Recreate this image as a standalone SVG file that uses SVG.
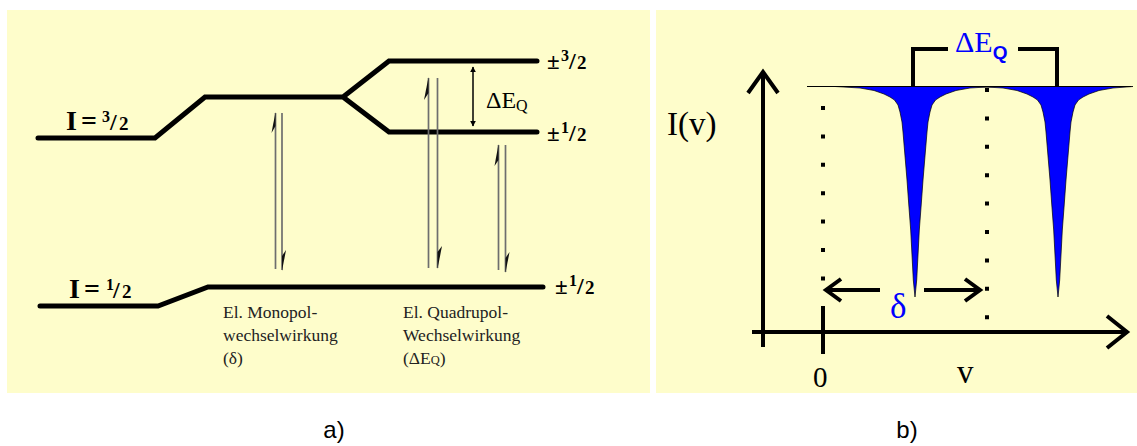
<svg xmlns="http://www.w3.org/2000/svg" width="1137" height="446" viewBox="0 0 1137 446">
<defs>
<style>
.bg{fill:#FEFDCB}
.lvl{fill:none;stroke:#000;stroke-width:5;stroke-linecap:round;stroke-linejoin:miter}
.tr{stroke:#6e6e6e;stroke-width:1.7}
.barb{fill:#111}
.lbl{font-family:"Liberation Serif","Times New Roman",serif;font-weight:bold;fill:#000}
.note{font-family:"Liberation Serif","Times New Roman",serif;font-size:17.5px;fill:#222}
.ax{fill:none;stroke:#000;stroke-width:4}
.dots{stroke:#000;stroke-width:4;stroke-dasharray:4 24.4}
.blue{fill:#0000FF}
.peak{fill:#0000FF;stroke:#000;stroke-width:0.7}
.cap{font-family:"Liberation Sans",Arial,sans-serif;font-size:24px;fill:#000}
</style>
<marker id="ah" viewBox="0 0 10 10" refX="9" refY="5" markerWidth="6" markerHeight="7" orient="auto-start-reverse" markerUnits="userSpaceOnUse">
<path d="M0,0 L10,5 L0,10 Z" fill="#000"/>
</marker>
</defs>

<rect class="bg" x="7" y="10" width="643" height="383"/>
<rect class="bg" x="656" y="10" width="481" height="383"/>

<g id="panel-a">
<g id="levels">
<path class="lvl" d="M38,138 H155 L205,97 H343 L389,61 H537 M343,97 L389,132 H537"/>
<path class="lvl" d="M40,306 H158 L208,287 H543"/>
</g>
<g id="level-labels">
<text class="lbl" x="66" y="130" font-size="28">I</text>
<text class="lbl" x="81" y="130" font-size="28">=</text>
<text class="lbl" x="102" y="122" font-size="16">3</text>
<text class="lbl" x="110" y="130" font-size="24">/</text>
<text class="lbl" x="119" y="130" font-size="19">2</text>

<text class="lbl" x="69" y="298" font-size="28">I</text>
<text class="lbl" x="84" y="298" font-size="28">=</text>
<text class="lbl" x="106" y="290" font-size="16">1</text>
<text class="lbl" x="113" y="298" font-size="24">/</text>
<text class="lbl" x="122" y="298" font-size="19">2</text>

<text class="lbl" x="547" y="69" font-size="23">±</text>
<text class="lbl" x="561" y="61" font-size="16">3</text>
<text class="lbl" x="569" y="69" font-size="24">/</text>
<text class="lbl" x="577" y="69" font-size="19">2</text>

<text class="lbl" x="547" y="141" font-size="23">±</text>
<text class="lbl" x="561" y="133" font-size="16">1</text>
<text class="lbl" x="569" y="141" font-size="24">/</text>
<text class="lbl" x="577" y="141" font-size="19">2</text>

<text class="lbl" x="555" y="294" font-size="23">±</text>
<text class="lbl" x="569" y="286" font-size="16">1</text>
<text class="lbl" x="577" y="294" font-size="24">/</text>
<text class="lbl" x="585" y="294" font-size="19">2</text>
</g>
<g id="transitions">
<line class="tr" x1="275.5" y1="113" x2="275.5" y2="269"/>
<path class="barb" d="M275.5,112 L271.5,133 L275.5,126 Z"/>
<line class="tr" x1="282" y1="113" x2="282" y2="270"/>
<path class="barb" d="M282,271 L286,250 L282,256 Z"/>

<line class="tr" x1="428.5" y1="78" x2="428.5" y2="268"/>
<path class="barb" d="M428.5,77 L424,100 L428.5,93 Z"/>
<line class="tr" x1="437.5" y1="78" x2="437.5" y2="268"/>
<path class="barb" d="M437.5,269 L442,246 L437.5,252 Z"/>

<line class="tr" x1="498.5" y1="145" x2="498.5" y2="270"/>
<path class="barb" d="M498.5,144 L494.5,166 L498.5,160 Z"/>
<line class="tr" x1="505.5" y1="145" x2="505.5" y2="272" stroke="#aaa"/>
<path class="barb" d="M505.5,273 L509.5,252 L505.5,258 Z"/>
</g>
<g id="dEQ-a">
<line x1="473" y1="67" x2="473" y2="126" stroke="#000" stroke-width="1.5" marker-start="url(#ah)" marker-end="url(#ah)"/>
<text x="486" y="108" font-family="'Liberation Serif','Times New Roman',serif" font-size="24" fill="#000">ΔE<tspan font-size="16" dy="3">Q</tspan></text>
</g>
<g id="notes">
<text class="note" x="223" y="318">El. Monopol-</text>
<text class="note" x="223" y="341">wechselwirkung</text>
<text class="note" x="223" y="364">(δ)</text>
<text class="note" x="403" y="318">El. Quadrupol-</text>
<text class="note" x="403" y="341">Wechselwirkung</text>
<text class="note" x="403" y="364">(ΔE<tspan font-size="12.5">Q</tspan>)</text>
</g>
</g>

<g id="panel-b">
<g id="axes">
<line class="ax" x1="763" y1="74" x2="763" y2="347"/>
<path class="ax" d="M748,93 L763,72 L778,93"/>
<line class="ax" x1="752" y1="332" x2="1124" y2="332"/>
<path class="ax" d="M1107,316 L1127,332 L1107,348"/>
<line class="ax" x1="823" y1="306" x2="823" y2="354"/>
</g>
<g id="dotted">
<line class="dots" x1="823" y1="106" x2="823" y2="282"/>
<line class="dots" x1="987" y1="88" x2="987" y2="320"/>
</g>
<g id="spectrum">
<path class="peak" d="M835,86.5 L860,88 L874,90.5 L884,94 L890,97 L894.5,100 L898,105 L900,112 L902,122 L903,132 L904.5,150 L906,168 L907,180 L908.8,205 L910.7,230 L912,255 L913.3,280 L915,297 L916.7,280 L918,255 L919.3,230 L921.2,205 L923,180 L924,168 L925.5,150 L927,132 L928,122 L930,112 L932,105 L935.5,100 L940,97 L946,94 L956,90.5 L970,88 L995,86.5 Z"/>
<path class="peak" d="M978,86.5 L1003,88 L1017,90.5 L1027,94 L1033,97 L1037.5,100 L1041,105 L1043,112 L1045,122 L1046,132 L1047.5,150 L1049,168 L1050,180 L1051.8,205 L1053.7,230 L1055,255 L1056.3,280 L1058,297 L1059.7,280 L1061,255 L1062.3,230 L1064.2,205 L1066,180 L1067,168 L1068.5,150 L1070,132 L1071,122 L1073,112 L1075,105 L1078.5,100 L1083,97 L1089,94 L1099,90.5 L1113,88 L1133,86.5 Z"/>
<line x1="807" y1="86.5" x2="1131" y2="86.5" stroke="#000" stroke-width="1.2"/>
</g>
<g id="dEQ-b">
<path class="ax" d="M913,86 V49 H948 M1018,49 H1057 V86"/>
<text x="955" y="52" font-family="'Liberation Serif','Times New Roman',serif" font-size="30" class="blue">ΔE<tspan font-family="'Liberation Sans',Arial,sans-serif" font-weight="bold" font-size="19" dy="7">Q</tspan></text>
</g>
<g id="delta">
<line class="ax" x1="826" y1="290" x2="880" y2="290"/>
<path class="ax" d="M841,279 L826,290 L841,301"/>
<line class="ax" x1="924" y1="290" x2="978" y2="290"/>
<path class="ax" d="M965,279 L980,290 L965,301"/>
<text x="890" y="318" font-family="'Liberation Serif','Times New Roman',serif" font-size="35" class="blue">δ</text>
</g>
<g id="axis-labels">
<text x="667" y="135" font-family="'Liberation Serif','Times New Roman',serif" font-size="33" fill="#000">I(v)</text>
<text x="813" y="387" font-family="'Liberation Serif','Times New Roman',serif" font-size="29" fill="#000">0</text>
<text x="957" y="383" font-family="'Liberation Serif','Times New Roman',serif" font-size="33" fill="#000">v</text>
</g>
</g>

<text class="cap" x="334" y="438" text-anchor="middle">a)</text>
<text class="cap" x="907" y="438" text-anchor="middle">b)</text>
</svg>
